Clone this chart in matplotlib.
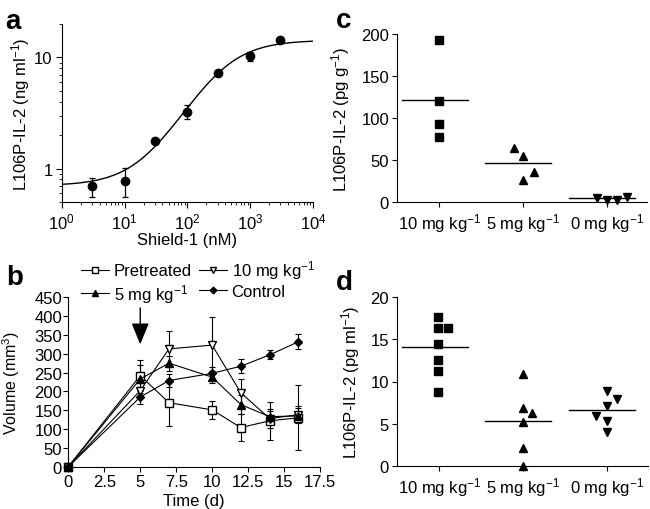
import numpy as np
import matplotlib
matplotlib.use("Agg")
import matplotlib.pyplot as plt
from matplotlib.lines import Line2D
from matplotlib.ticker import LogLocator, NullFormatter, FixedLocator

plt.rcParams['font.family'] = ['Liberation Sans', 'DejaVu Sans']
plt.rcParams['mathtext.fontset'] = 'custom'
plt.rcParams['mathtext.rm'] = 'Liberation Sans'
plt.rcParams['mathtext.it'] = 'Liberation Sans:italic'
plt.rcParams['mathtext.bf'] = 'Liberation Sans:bold'
plt.rcParams['font.size'] = 12
plt.rcParams['axes.linewidth'] = 0.8
plt.rcParams['xtick.major.width'] = 0.8
plt.rcParams['ytick.major.width'] = 0.8
plt.rcParams['xtick.minor.width'] = 0.6
plt.rcParams['ytick.minor.width'] = 0.6

# ---------------- data ----------------
# panel a
shield_nM = [3, 10, 30, 100, 300, 1000, 3000]
il2_ng = [0.69, 0.78, 1.76, 3.25, 7.3, 10.3, 14.3]
il2_err_lo = [0.14, 0.23, 0.05, 0.45, 0.2, 1.0, 0.6]
il2_err_hi = [0.14, 0.24, 0.05, 0.45, 0.2, 1.0, 0.6]
fit_bottom = 0.70
fit_top = 14.3
fit_ec50 = 330.0
fit_hill = 1.12

# panel b
days = [0, 5, 7, 10, 12, 14, 16]
pretreated = [0, 242, 170, 151, 104, 122, 130]
pretreated_err = [0, 42, 62, 23, 37, 50, 86]
dose10 = [0, 202, 313, 323, 196, 128, 138]
dose10_err = [0, 20, 47, 74, 37, 25, 22]
dose5 = [0, 233, 275, 238, 165, 133, 135]
dose5_err = [0, 36, 20, 15, 25, 15, 20]
control = [0, 185, 229, 248, 267, 297, 332]
control_err = [0, 18, 16, 18, 18, 12, 20]
arrow_day = 5
arrow_from = 422
arrow_to = 325

# panels c and d
groups = ['10 mg kg$^{-1}$', '5 mg kg$^{-1}$', '0 mg kg$^{-1}$']
c_10 = [193, 120, 93.5, 77]
c_10_x = [0, 0, 0, 0]
c_5 = [64.5, 55.5, 35.5, 27]
c_5_x = [-0.11, 0.0, 0.13, 0.0]
c_0 = [4.7, 3.1, 3.1, 5.9]
c_0_x = [-0.12, 0.0, 0.13, 0.25]
c_medians = [121, 46.8, 5.1]

d_10 = [17.7, 16.35, 16.3, 14.45, 12.5, 11.2, 8.7]
d_10_x = [-0.02, -0.02, 0.1, -0.02, -0.02, -0.02, -0.02]
d_5 = [10.95, 6.9, 6.2, 5.15, 2.05, 0.0]
d_5_x = [0.0, 0.0, 0.11, 0.0, 0.0, 0.0]
d_0 = [8.9, 7.9, 7.1, 5.9, 5.3, 3.95]
d_0_x = [0.0, 0.13, 0.0, -0.12, 0.0, 0.0]
d_medians = [14.1, 5.35, 6.6]

# ---------------- figure ----------------
fig = plt.figure(figsize=(6.5, 5.1), dpi=100)

def style(ax):
    ax.spines['top'].set_visible(False)
    ax.spines['right'].set_visible(False)
    ax.tick_params(direction='out', length=3.5, pad=2, labelsize=12)
    ax.tick_params(which='minor', direction='out', length=2)

# ---- a ----
axa = fig.add_axes([0.0949, 0.6020, 0.3871, 0.3490])
style(axa)
axa.set_xscale('log')
axa.set_yscale('log')
xf = np.logspace(0, 4, 300)
yf = fit_bottom + (fit_top - fit_bottom) / (1 + (fit_ec50 / xf) ** fit_hill)
axa.plot(xf, yf, color='black', lw=1.0)
axa.errorbar(shield_nM, il2_ng, yerr=[il2_err_lo, il2_err_hi], fmt='o', color='black',
             ms=6, elinewidth=0.9, capsize=2, capthick=0.9)
axa.set_xlim(1, 1e4)
axa.set_ylim(0.5, 20)
axa.xaxis.set_major_locator(LogLocator(base=10, numticks=10))
axa.xaxis.set_minor_locator(LogLocator(base=10, subs=np.arange(2, 10), numticks=20))
axa.xaxis.set_minor_formatter(NullFormatter())
axa.yaxis.set_major_locator(FixedLocator([1, 10]))
axa.set_yticklabels(['1', '10'])
axa.yaxis.set_minor_locator(LogLocator(base=10, subs=np.arange(2, 10), numticks=20))
axa.yaxis.set_minor_formatter(NullFormatter())
axa.tick_params(which='major', length=4.5)
axa.set_xlabel('Shield-1 (nM)')
axa.set_ylabel('L106P-IL-2 (ng ml$^{-1}$)')
axa.xaxis.set_label_coords(0.5, -0.167)
axa.yaxis.set_label_coords(-0.119, 0.5)

# ---- b ----
axb = fig.add_axes([0.1051, 0.0829, 0.3872, 0.3322])
style(axb)
kw = dict(color='black', lw=0.8, elinewidth=0.8, capsize=2.2, capthick=0.8, clip_on=False)
series = [
    (pretreated, pretreated_err, 's', 5.2, 'white', 'Pretreated'),
    (dose10, dose10_err, 'v', 5.5, 'white', '10 mg kg$^{-1}$'),
    (dose5, dose5_err, '^', 5.5, 'black', '5 mg kg$^{-1}$'),
    (control, control_err, 'D', 4.2, 'black', 'Control'),
]
handles = {}
for vals, errs, mk, ms, fc, lab in series:
    axb.errorbar(days, vals, yerr=errs, marker=mk, ms=ms, mfc=fc, mec='black',
                 zorder=3, **kw)
    handles[lab] = Line2D([], [], color='black', lw=0.8, marker=mk, ms=ms * 0.8,
                          mfc=fc, mec='black', label=lab)
axb.annotate('', xy=(arrow_day, arrow_to), xytext=(arrow_day, arrow_from),
             arrowprops=dict(arrowstyle='-|>,head_length=1.1,head_width=0.45',
                             color='black', lw=1.0, shrinkA=0, shrinkB=0))
axb.set_xlim(0, 17.5)
axb.set_ylim(0, 450)
axb.set_xticks(np.arange(0, 17.6, 2.5))
axb.set_xticklabels(['0', '2.5', '5', '7.5', '10', '12.5', '15', '17.5'])
axb.set_yticks(np.arange(0, 451, 50))
axb.tick_params(axis='x', pad=1.5)
axb.tick_params(axis='y', pad=1)
axb.set_xlabel('Time (d)', labelpad=3)
axb.set_ylabel('Volume (mm$^{3}$)', fontsize=11.5)
axb.yaxis.set_label_coords(-0.183, 0.5)
order = ['Pretreated', '5 mg kg$^{-1}$', '10 mg kg$^{-1}$', 'Control']
axb.legend(handles=[handles[k] for k in order], ncol=2, loc='lower left',
           bbox_to_anchor=(0.052, 0.957), frameon=False, borderaxespad=0, borderpad=0,
           handlelength=1.66, handletextpad=0.3, columnspacing=0.4, labelspacing=0.2,
           fontsize=12)

# ---- c ----
axc = fig.add_axes([0.6103, 0.6014, 0.3846, 0.3300])
style(axc)
axc.plot(np.array(c_10_x) + 0, c_10, 's', color='black', ms=5.8, clip_on=False)
axc.plot(np.array(c_5_x) + 1, c_5, '^', color='black', ms=6.2, clip_on=False)
axc.plot(np.array(c_0_x) + 2, c_0, 'v', color='black', ms=6.2, clip_on=False)
for i, m in enumerate(c_medians):
    axc.plot([i - 0.45, i + 0.34], [m, m], color='black', lw=1.0)
axc.set_xlim(-0.51, 2.48)
axc.set_ylim(0, 200)
axc.set_xticks(range(3))
axc.set_xticklabels(groups)
axc.set_yticks(np.arange(0, 201, 50))
axc.tick_params(axis='x', pad=3)
axc.set_ylabel('L106P-IL-2 (pg g$^{-1}$)')
axc.yaxis.set_label_coords(-0.179, 0.5)

# ---- d ----
axd = fig.add_axes([0.6103, 0.0849, 0.3871, 0.3302])
style(axd)
axd.plot(np.array(d_10_x) + 0, d_10, 's', color='black', ms=5.8, clip_on=False)
axd.plot(np.array(d_5_x) + 1, d_5, '^', color='black', ms=6.2, clip_on=False)
axd.plot(np.array(d_0_x) + 2, d_0, 'v', color='black', ms=6.2, clip_on=False)
for i, m in enumerate(d_medians):
    axd.plot([i - 0.45, i + 0.34], [m, m], color='black', lw=1.0)
axd.set_xlim(-0.51, 2.5)
axd.set_ylim(0, 20)
axd.set_xticks(range(3))
axd.set_xticklabels(groups)
axd.set_yticks(np.arange(0, 21, 5))
axd.tick_params(axis='x', pad=3)
axd.set_ylabel('L106P-IL-2 (pg ml$^{-1}$)')
axd.yaxis.set_label_coords(-0.138, 0.5)

# panel letters
for txt, x, y in [('a', 5, 29), ('c', 336, 28), ('b', 6, 285), ('d', 336, 290)]:
    fig.text(x / 650, 1 - y / 510, txt, fontsize=20, fontweight='bold',
             ha='left', va='baseline')

fig.savefig('out.png', dpi=100)
